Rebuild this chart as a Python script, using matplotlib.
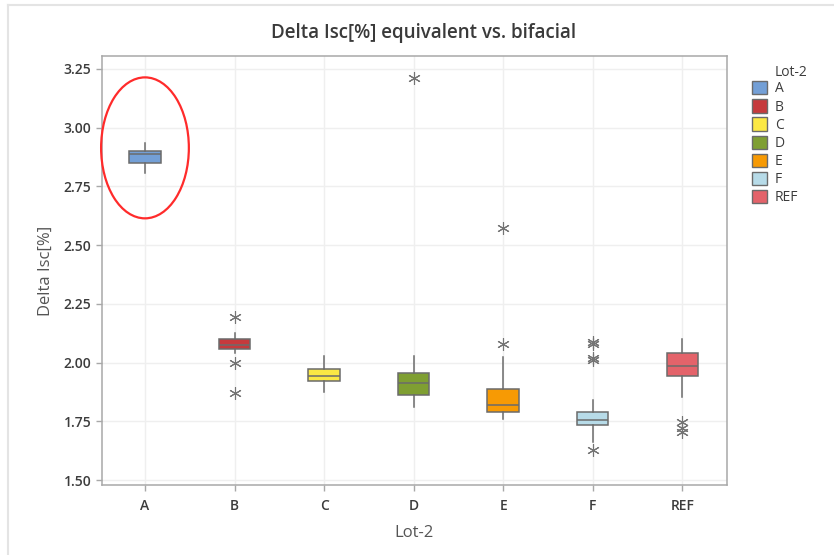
import matplotlib
matplotlib.use("Agg")
import matplotlib.pyplot as plt
from matplotlib.patches import Patch, Ellipse
from matplotlib.lines import Line2D

plt.rcParams['font.family'] = ['Open Sans', 'DejaVu Sans']

# Lot-2 groups and their box-plot summaries (Delta Isc [%])
groups = ["A", "B", "C", "D", "E", "F", "REF"]
whisker_low = [2.808, 2.039, 1.876, 1.812, 1.758, 1.663, 1.852]
q1 = [2.848, 2.058, 1.921, 1.862, 1.788, 1.734, 1.943]
median = [2.887, 2.075, 1.944, 1.912, 1.819, 1.755, 1.987]
q3 = [2.902, 2.100, 1.971, 1.954, 1.887, 1.788, 2.039]
whisker_high = [2.936, 2.124, 2.029, 2.029, 2.025, 1.841, 2.100]
outliers = [
    [],
    [2.193, 1.999, 1.872],
    [],
    [3.211],
    [2.078, 2.571],
    [2.088, 2.080, 2.018, 2.012, 1.628],
    [1.747, 1.721, 1.704],
]
colors = ["#739fd6", "#c63a3d", "#fbe844", "#7f9f32", "#f79a04", "#b7dbe8", "#e4636a"]

y_ticks = [1.50, 1.75, 2.00, 2.25, 2.50, 2.75, 3.00, 3.25]

fig = plt.figure(figsize=(8.34, 5.55), dpi=100)
fig.patch.set_facecolor("white")
ax = fig.add_axes([102 / 834, 1 - 485 / 555, (727 - 102) / 834, (485 - 56) / 555])

stats = []
for i, g in enumerate(groups):
    stats.append(dict(label=g, med=median[i], q1=q1[i], q3=q3[i],
                      whislo=whisker_low[i], whishi=whisker_high[i],
                      fliers=outliers[i]))

edge = "#6b6b6b"
bp = ax.bxp(stats, positions=range(len(groups)), widths=0.35,
            patch_artist=True, showcaps=False,
            boxprops=dict(edgecolor=edge, linewidth=1.1),
            medianprops=dict(color=edge, linewidth=1.1),
            whiskerprops=dict(color=edge, linewidth=1.1),
            flierprops=dict(marker=(6, 2, 0), markersize=9,
                            markeredgecolor="#747474", markerfacecolor="#747474",
                            markeredgewidth=0.8, linestyle="none"))
for patch, c in zip(bp["boxes"], colors):
    patch.set_facecolor(c)

ax.set_xlim(-0.48, 6.5)
ax.set_ylim(1.479, 3.305)
ax.set_yticks(y_ticks)
ax.set_yticklabels([f"{v:.2f}" for v in y_ticks])
ax.set_xticks(range(len(groups)))
ax.set_xticklabels(groups)

ax.grid(True, color="#efefef", linewidth=1.0)
ax.set_axisbelow(True)
for s in ax.spines.values():
    s.set_color("#a8a8a8")
    s.set_linewidth(1.1)
ax.tick_params(axis="both", length=4, width=1, color="#a8a8a8",
               labelsize=10, labelcolor="#3c3c3c")
for lbl in ax.get_xticklabels() + ax.get_yticklabels():
    lbl.set_fontweight("semibold")
ax.tick_params(axis="x", pad=6)

ax.set_ylabel("Delta Isc[%]", fontsize=12, color="#555555", labelpad=7)
ax.set_xlabel("Lot-2", fontsize=12, color="#555555", labelpad=9)
fig.text(424 / 834, 1 - 33 / 555, "Delta Isc[%] equivalent vs. bifacial",
         ha="center", va="center", fontsize=13.5, color="#3a3a3a", fontweight="semibold")

# highlight ring around group A
ax.add_patch(Ellipse((0, 2.914), width=0.98, height=0.60, fill=False,
                     edgecolor="#ff2b2b", linewidth=1.6, clip_on=False, zorder=5))

handles = [Patch(facecolor=c, edgecolor="#6b6b6b", linewidth=1.0, label=g)
           for g, c in zip(groups, colors)]
leg = fig.legend(handles=handles, loc="upper left",
                 bbox_to_anchor=(752 / 834, 1 - 81 / 555), frameon=False,
                 fontsize=10, handlelength=1.1, handleheight=1.1,
                 handletextpad=0.55, labelspacing=0.2, borderaxespad=0, borderpad=0)
for t in leg.get_texts():
    t.set_color("#3c3c3c")
fig.text(775 / 834, 1 - 72 / 555, "Lot-2", ha="left", va="center",
         fontsize=10, color="#3c3c3c")

# light outer frame
fig.add_artist(Line2D([8 / 834, 8 / 834], [0, 1 - 5 / 555], color="#e4e4e4", linewidth=1.5))
fig.add_artist(Line2D([8 / 834, 1], [1 - 5 / 555, 1 - 5 / 555], color="#e4e4e4", linewidth=1.5))

fig.savefig("out.png", dpi=100)
